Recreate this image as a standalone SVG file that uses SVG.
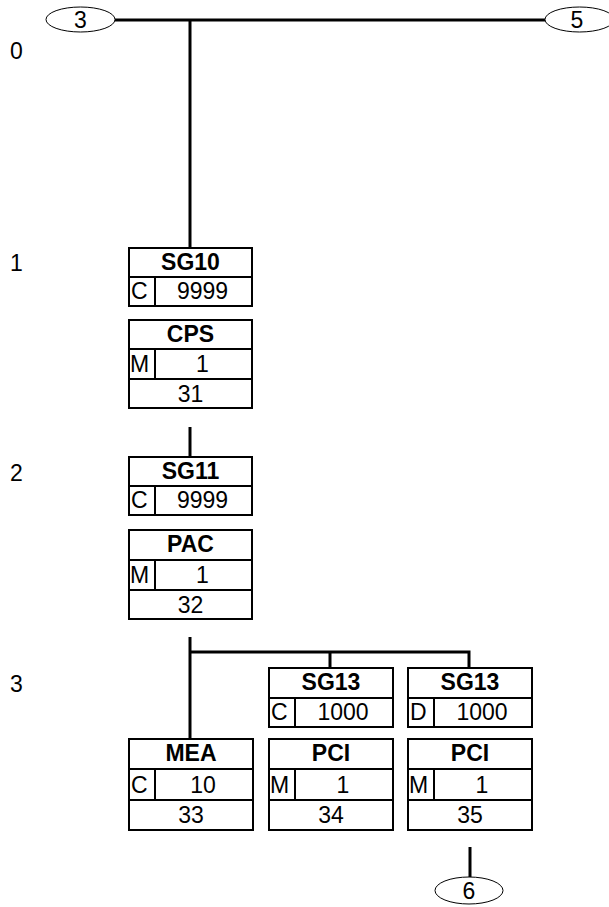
<svg xmlns="http://www.w3.org/2000/svg" width="609" height="907" viewBox="0 0 609 907">
<style>
.b{fill:#fff;stroke:#000;stroke-width:2}
.d{stroke:#000;stroke-width:2}
.c{stroke:#000;stroke-width:3;fill:none}
.e{fill:#fff;stroke:#000;stroke-width:1}
text{font-family:"Liberation Sans",Arial,sans-serif;font-size:23px;fill:#000}
.h{font-weight:bold;text-anchor:middle}
.m{text-anchor:middle}
</style>
<g id="connectors">
<line class="c" x1="115" y1="20" x2="545" y2="20"/>
<line class="c" x1="190" y1="20" x2="190" y2="248"/>
<line class="c" x1="190" y1="427" x2="190" y2="457"/>
<line class="c" x1="190" y1="637" x2="190" y2="739"/>
<polyline class="c" points="190,652 469,652 469,668"/>
<line class="c" x1="330" y1="652" x2="330" y2="668"/>
<line class="c" x1="470" y1="847" x2="470" y2="877"/>
</g>
<g id="levels">
<text x="10" y="59">0</text>
<text x="10" y="271">1</text>
<text x="10" y="481">2</text>
<text x="10" y="692">3</text>
</g>
<g id="ref3"><ellipse class="e" cx="80.5" cy="19.5" rx="34.5" ry="12.5"/><text class="m" x="80.5" y="28">3</text></g>
<g id="ref5"><ellipse class="e" cx="579.5" cy="19.5" rx="34.5" ry="12.5"/><text class="m" x="577" y="28">5</text></g>
<g id="ref6"><ellipse class="e" cx="469" cy="890.5" rx="34" ry="13.5"/><text class="m" x="469" y="899">6</text></g>
<g id="SG10">
<rect class="b" x="129" y="248" width="123" height="58"/>
<line class="d" x1="129" y1="277" x2="252" y2="277"/>
<line class="d" x1="155" y1="277" x2="155" y2="306"/>
<text class="h" x="190.5" y="270">SG10</text>
<text x="131" y="299">C</text>
<text class="m" x="202.5" y="299">9999</text>
</g>
<g id="CPS">
<rect class="b" x="129" y="320" width="123" height="88"/>
<line class="d" x1="129" y1="349" x2="252" y2="349"/>
<line class="d" x1="129" y1="379" x2="252" y2="379"/>
<line class="d" x1="155" y1="349" x2="155" y2="379"/>
<text class="h" x="190.5" y="342">CPS</text>
<text x="130" y="372">M</text>
<text class="m" x="202.5" y="372">1</text>
<text class="m" x="190.5" y="402">31</text>
</g>
<g id="SG11">
<rect class="b" x="129" y="457" width="123" height="58"/>
<line class="d" x1="129" y1="486" x2="252" y2="486"/>
<line class="d" x1="155" y1="486" x2="155" y2="515"/>
<text class="h" x="190.5" y="479">SG11</text>
<text x="131" y="508">C</text>
<text class="m" x="202.5" y="508">9999</text>
</g>
<g id="PAC">
<rect class="b" x="129" y="530" width="123" height="89"/>
<line class="d" x1="129" y1="560" x2="252" y2="560"/>
<line class="d" x1="129" y1="590" x2="252" y2="590"/>
<line class="d" x1="155" y1="560" x2="155" y2="590"/>
<text class="h" x="190.5" y="552">PAC</text>
<text x="130" y="583">M</text>
<text class="m" x="202.5" y="583">1</text>
<text class="m" x="190.5" y="613">32</text>
</g>
<g id="SG13a">
<rect class="b" x="269" y="668" width="124" height="59"/>
<line class="d" x1="269" y1="698" x2="393" y2="698"/>
<line class="d" x1="295" y1="698" x2="295" y2="727"/>
<text class="h" x="331" y="690">SG13</text>
<text x="271" y="720">C</text>
<text class="m" x="343" y="720">1000</text>
</g>
<g id="SG13b">
<rect class="b" x="408" y="668" width="124" height="59"/>
<line class="d" x1="408" y1="698" x2="532" y2="698"/>
<line class="d" x1="434" y1="698" x2="434" y2="727"/>
<text class="h" x="470" y="690">SG13</text>
<text x="410" y="720">D</text>
<text class="m" x="482" y="720">1000</text>
</g>
<g id="MEA">
<rect class="b" x="129" y="739" width="124" height="91"/>
<line class="d" x1="129" y1="769" x2="253" y2="769"/>
<line class="d" x1="129" y1="800" x2="253" y2="800"/>
<line class="d" x1="155" y1="769" x2="155" y2="800"/>
<text class="h" x="191" y="761">MEA</text>
<text x="131" y="793">C</text>
<text class="m" x="203" y="793">10</text>
<text class="m" x="191" y="823">33</text>
</g>
<g id="PCI34">
<rect class="b" x="269" y="739" width="124" height="91"/>
<line class="d" x1="269" y1="769" x2="393" y2="769"/>
<line class="d" x1="269" y1="800" x2="393" y2="800"/>
<line class="d" x1="295" y1="769" x2="295" y2="800"/>
<text class="h" x="331" y="761">PCI</text>
<text x="270" y="793">M</text>
<text class="m" x="343" y="793">1</text>
<text class="m" x="331" y="823">34</text>
</g>
<g id="PCI35">
<rect class="b" x="408" y="739" width="124" height="91"/>
<line class="d" x1="408" y1="769" x2="532" y2="769"/>
<line class="d" x1="408" y1="800" x2="532" y2="800"/>
<line class="d" x1="434" y1="769" x2="434" y2="800"/>
<text class="h" x="470" y="761">PCI</text>
<text x="409" y="793">M</text>
<text class="m" x="482" y="793">1</text>
<text class="m" x="470" y="823">35</text>
</g>
</svg>
